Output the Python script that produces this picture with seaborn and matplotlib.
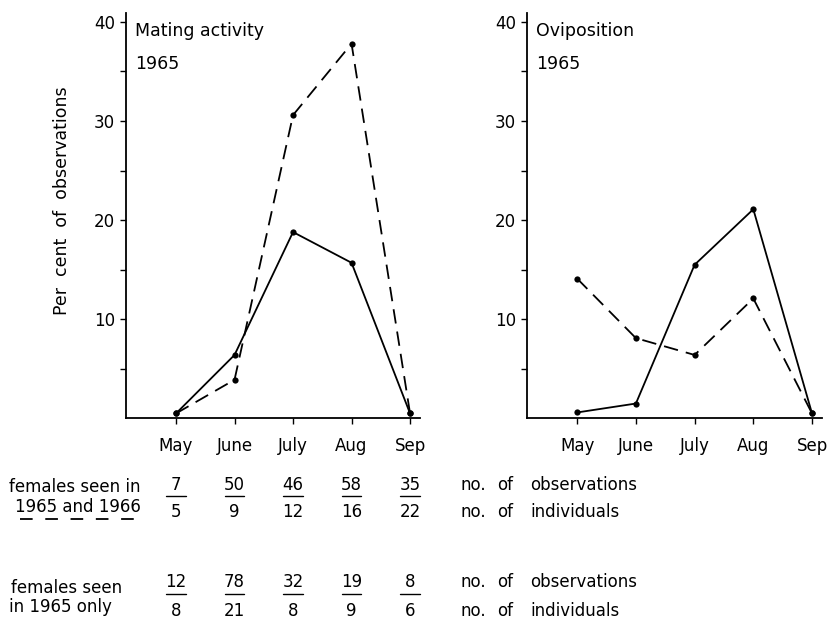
import numpy as np
import pandas as pd
import matplotlib
matplotlib.use("Agg")
import matplotlib.pyplot as plt
import matplotlib.transforms as mtransforms
from matplotlib.lines import Line2D
import seaborn as sns


# ---------------------------------------------
# Data
# ---------------------------------------------
months = ["May", "June", "July", "Aug", "Sep"]

# Mating activity 1965 (per cent of observations)
mating_both = [0.5, 3.9, 30.6, 37.8, 0.5]      # dashed: seen in 1965 and 1966
mating_only = [0.5, 6.4, 18.8, 15.7, 0.5]      # solid: seen in 1965 only

# Oviposition 1965
ovi_both = [14.1, 8.1, 6.4, 12.1, 0.5]
ovi_only = [0.6, 1.5, 15.5, 21.1, 0.5]

# counts under the plot
both_obs = [7, 50, 46, 58, 35]
both_ind = [5, 9, 12, 16, 22]
only_obs = [12, 78, 32, 19, 8]
only_ind = [8, 21, 8, 9, 6]

group_both = "1965 and 1966"
group_only = "1965 only"

W, H = 830, 620


def fx(x):
    return x / W


def fy(y):
    return 1 - y / H


def build_frame(both, only):
    idx = np.arange(len(months))
    df = pd.concat([
        pd.DataFrame({"month": idx, "pct": both, "group": group_both}),
        pd.DataFrame({"month": idx, "pct": only, "group": group_only}),
    ], ignore_index=True)
    return df


def draw_panel(ax, df, title):
    sns.lineplot(
        data=df, x="month", y="pct", style="group", ax=ax,
        color="black", linewidth=1.3, legend=False,
        dashes={group_both: (8, 4.5), group_only: ""},
        markers={group_both: "o", group_only: "o"},
        markersize=4.5, markeredgewidth=0,
    )
    ax.set_xlim(-0.855, 4.17)
    ax.set_ylim(0, 40.9)
    ax.set_xticks(np.arange(len(months)))
    ax.set_xticklabels(months)
    ax.set_yticks([10, 20, 30, 40])
    ax.set_yticks([5, 15, 25, 35], minor=True)
    ax.tick_params(axis="x", length=4.5, width=1, pad=9, labelsize=12,
                   color="black", labelcolor="black")
    ax.tick_params(axis="y", which="both", length=4, width=1, pad=4,
                   labelsize=12, color="black", labelcolor="black")
    ax.set_xlabel("")
    ax.set_ylabel("")
    for side in ["top", "right"]:
        ax.spines[side].set_visible(False)
    for side in ["left", "bottom"]:
        ax.spines[side].set_linewidth(1.3)
        ax.spines[side].set_color("black")
    ax.text(0.03, 0.955, title, transform=ax.transAxes, fontsize=12.5,
            va="center", ha="left")
    ax.text(0.03, 0.875, "1965", transform=ax.transAxes, fontsize=12.5,
            va="center", ha="left")


# ---------------------------------------------
# Figure
# ---------------------------------------------
sns.set_theme(style="ticks")
plt.rcParams["font.family"] = ["DejaVu Sans"]
plt.rcParams["text.color"] = "black"
plt.rcParams["axes.labelcolor"] = "black"

fig = plt.figure(figsize=(8.3, 6.2), dpi=100)
fig.patch.set_facecolor("white")

ax_h = (418.4 - 13) / H
ax1 = fig.add_axes([fx(126), fy(418.4), (420 - 126) / W, ax_h])
ax2 = fig.add_axes([fx(527), fy(418.4), (822 - 527) / W, ax_h])

draw_panel(ax1, build_frame(mating_both, mating_only), "Mating activity")
draw_panel(ax2, build_frame(ovi_both, ovi_only), "Oviposition")

fig.text(fx(62), fy(201), "Per  cent  of  observations", rotation=90,
         fontsize=12.5, ha="center", va="center")

# ---------------------------------------------
# Table of counts
# ---------------------------------------------
blend = mtransforms.blended_transform_factory(ax1.transData, fig.transFigure)

rows = [
    (both_obs, both_ind, 485, 496, 512),
    (only_obs, only_ind, 582, 594, 611),
]
for obs, ind, y_top, y_line, y_bot in rows:
    for i, (o, n) in enumerate(zip(obs, ind)):
        fig.text(i, fy(y_top), str(o), transform=blend, fontsize=12,
                 ha="center", va="center")
        fig.text(i, fy(y_bot), str(n), transform=blend, fontsize=12,
                 ha="center", va="center")
        fig.add_artist(Line2D([i - 0.17, i + 0.17], [fy(y_line)] * 2,
                              transform=blend, color="black", lw=1))
    fig.text(fx(460), fy(y_top), "no.", fontsize=12, va="center")
    fig.text(fx(497), fy(y_top), "of", fontsize=12, va="center")
    fig.text(fx(530), fy(y_top), "observations", fontsize=12, va="center")
    fig.text(fx(460), fy(y_bot), "no.", fontsize=12, va="center")
    fig.text(fx(497), fy(y_bot), "of", fontsize=12, va="center")
    fig.text(fx(530), fy(y_bot), "individuals", fontsize=12, va="center")

fig.text(fx(9), fy(487), "females seen in", fontsize=12, va="center")
fig.text(fx(15), fy(507), "1965 and 1966", fontsize=12, va="center")
fig.add_artist(Line2D([fx(20), fx(138)], [fy(519)] * 2, color="black",
                      lw=1.3, dashes=(7, 7)))

fig.text(fx(11), fy(588), "females seen", fontsize=12, va="center")
fig.text(fx(9), fy(607), "in 1965 only", fontsize=12, va="center")

fig.savefig("out.png", dpi=100, facecolor="white")
